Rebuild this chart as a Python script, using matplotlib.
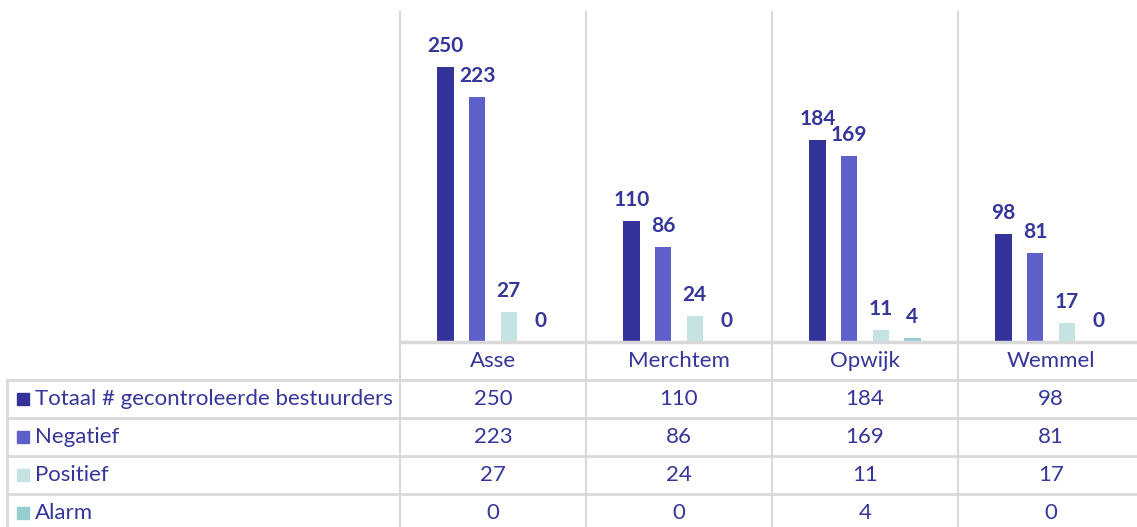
import matplotlib

matplotlib.use("Agg")
import matplotlib.pyplot as plt
import matplotlib.transforms as mtransforms
import numpy as np
from matplotlib.lines import Line2D
from matplotlib.patches import Rectangle

# gegevens
gemeenten = ["Asse", "Merchtem", "Opwijk", "Wemmel"]
reeksen = ["Totaal # gecontroleerde bestuurders", "Negatief", "Positief", "Alarm"]
totaal = [250, 110, 184, 98]
negatief = [223, 86, 169, 81]
positief = [27, 24, 11, 17]
alarm = [0, 0, 4, 0]

kleuren = ["#343399", "#5E5FC9", "#C5E3E3", "#95CECE"]
tekstkleur = "#35359A"
lijnkleur = "#D9D9D9"

plt.rcParams["font.family"] = ["Lato", "DejaVu Sans"]

W, H = 1137, 527
fig = plt.figure(figsize=(W / 100, H / 100), dpi=100)


def fy(y):
    # pixel y (van boven) naar figuurfractie
    return 1 - y / H


def fx(x):
    return x / W


# grafiekgebied (loopt iets voorbij de rechterrand, zoals het origineel)
ax_l, ax_r, ax_t, ax_b = 400, 1144, 12, 342
ax = fig.add_axes([fx(ax_l), fy(ax_b), fx(ax_r - ax_l), (ax_b - ax_t) / H])
ax.set_xlim(-0.5, len(gemeenten) - 0.5)
ax.set_ylim(0, 300)
ax.axis("off")

waarden = [totaal, negatief, positief, alarm]
x = np.arange(len(gemeenten))
breedte = 0.088
stap = 0.17
for i, (vals, kleur) in enumerate(zip(waarden, kleuren)):
    pos = x + (i - 1.5) * stap
    ax.bar(pos, vals, width=breedte, color=kleur, zorder=3)
    for px_, v in zip(pos, vals):
        ax.annotate(
            f"{v}",
            (px_, v),
            xytext=(0, 21),
            textcoords="offset pixels",
            ha="center",
            va="center",
            fontsize=15,
            fontweight="bold",
            color=tekstkleur,
        )

# tabel en rasterlijnen
trans = mtransforms.blended_transform_factory(ax.transData, fig.transFigure)
for grens in np.arange(len(gemeenten)) - 0.5:
    fig.add_artist(
        Line2D([grens, grens], [fy(ax_t), fy(H + 5)], transform=trans,
               color=lijnkleur, lw=1.5, zorder=1)
    )

rij_h = 38
rij_y = [ax_b + rij_h * k for k in range(6)]
# basislijn en categorierij
fig.add_artist(Line2D([fx(ax_l), 1], [fy(ax_b), fy(ax_b)], color=lijnkleur, lw=2.5))
for k in range(1, 5):
    fig.add_artist(Line2D([fx(7), 1], [fy(rij_y[k]), fy(rij_y[k])], color=lijnkleur, lw=2))
fig.add_artist(Line2D([fx(7), fx(7)], [fy(rij_y[1]), fy(H + 5)], color=lijnkleur, lw=2))

for j, naam in enumerate(gemeenten):
    fig.text(j, fy((rij_y[0] + rij_y[1]) / 2), naam, transform=trans,
             ha="center", va="center", fontsize=16, color=tekstkleur)

for r, (naam, vals, kleur) in enumerate(zip(reeksen, waarden, kleuren)):
    yc = (rij_y[r + 1] + rij_y[r + 2]) / 2
    fig.add_artist(Rectangle((fx(17), fy(yc + 6)), fx(12), 12 / H,
                             color=kleur, transform=fig.transFigure))
    fig.text(fx(35), fy(yc), naam, ha="left", va="center",
             fontsize=16, color=tekstkleur)
    for j, v in enumerate(vals):
        fig.text(j, fy(yc), f"{v}", transform=trans, ha="center",
                 va="center", fontsize=16, color=tekstkleur)

fig.savefig("out.png", dpi=100)
